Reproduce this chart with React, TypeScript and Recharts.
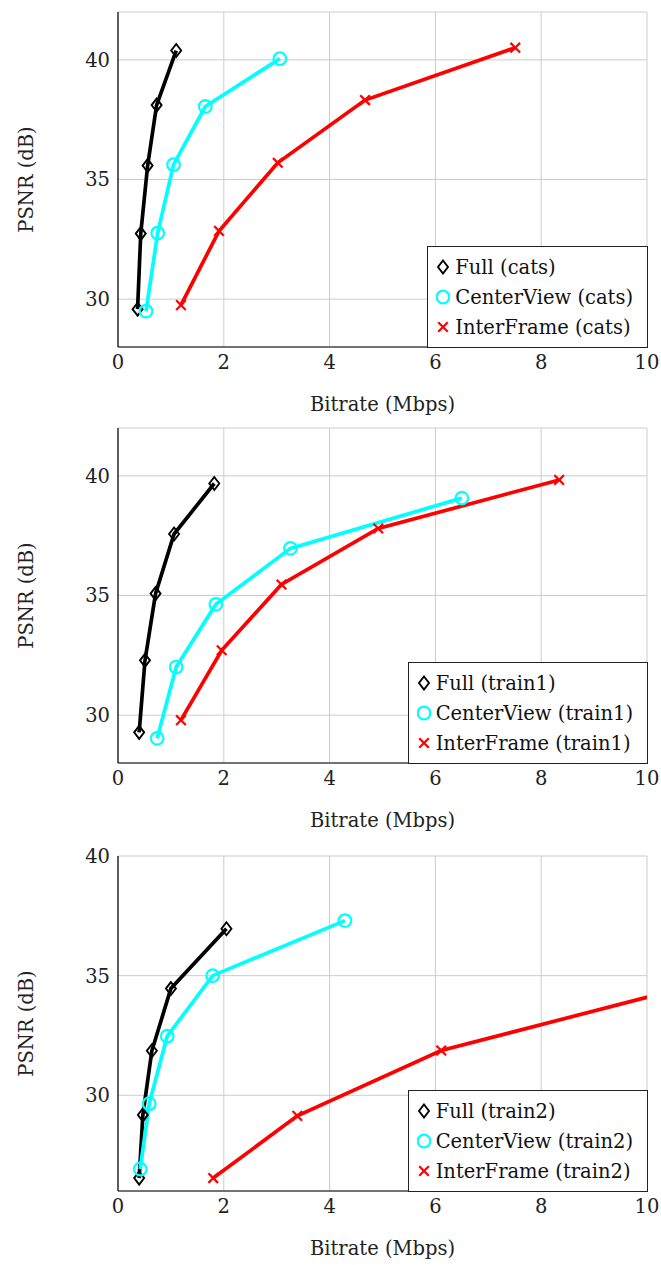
import React from 'react';
import { LineChart, Line, XAxis, YAxis, CartesianGrid, Legend, Label } from 'recharts';

const rateTicks = [0, 2, 4, 6, 8, 10];
const psnrTicks = [30, 35, 40];

// cats
const catsFullRate = [0.37, 0.43, 0.56, 0.73, 1.1];
const catsFullPsnr = [29.58, 32.74, 35.58, 38.11, 40.39];
const catsCenterRate = [0.53, 0.75, 1.05, 1.65, 3.06];
const catsCenterPsnr = [29.5, 32.76, 35.62, 38.05, 40.05];
const catsInterRate = [1.19, 1.91, 3.02, 4.67, 7.51];
const catsInterPsnr = [29.75, 32.85, 35.7, 38.32, 40.51];

// train1
const train1FullRate = [0.4, 0.51, 0.71, 1.06, 1.82];
const train1FullPsnr = [29.28, 32.29, 35.08, 37.57, 39.68];
const train1CenterRate = [0.74, 1.1, 1.85, 3.26, 6.5];
const train1CenterPsnr = [29.03, 32.01, 34.63, 36.97, 39.07];
const train1InterRate = [1.19, 1.96, 3.09, 4.92, 8.34];
const train1InterPsnr = [29.79, 32.71, 35.46, 37.8, 39.83];

// train2
const train2FullRate = [0.4, 0.47, 0.64, 1.0, 2.05];
const train2FullPsnr = [26.54, 29.18, 31.86, 34.46, 36.96];
const train2CenterRate = [0.42, 0.59, 0.93, 1.79, 4.29];
const train2CenterPsnr = [26.92, 29.65, 32.47, 35.0, 37.3];
const train2InterRate = [1.8, 3.39, 6.11, 12.5];
const train2InterPsnr = [26.54, 29.14, 31.87, 35.53];

const FONT = "'DejaVu Serif', 'Liberation Serif', serif";
const FS = 19.5;

type Pt = { rate: number; psnr: number };
const toPoints = (rate: number[], psnr: number[]): Pt[] =>
  rate.map((r, i) => ({ rate: r, psnr: psnr[i] }));

const Diamond = ({ cx, cy }: { cx: number; cy: number }) => (
  <polygon
    points={`${cx},${cy - 6.5} ${cx + 5},${cy} ${cx},${cy + 6.5} ${cx - 5},${cy}`}
    fill="none"
    stroke="#000"
    strokeWidth={1.9}
  />
);

const Ring = ({ cx, cy }: { cx: number; cy: number }) => (
  <circle cx={cx} cy={cy} r={6.3} fill="none" stroke="#00ffff" strokeWidth={2.2} />
);

const Cross = ({ cx, cy }: { cx: number; cy: number }) => (
  <g stroke="#ff0000" strokeWidth={2.2}>
    <line x1={cx - 4.8} y1={cy - 4.8} x2={cx + 4.8} y2={cy + 4.8} />
    <line x1={cx - 4.8} y1={cy + 4.8} x2={cx + 4.8} y2={cy - 4.8} />
  </g>
);

const series = [
  { key: 'full', label: 'Full', color: '#000000', Marker: Diamond },
  { key: 'center', label: 'CenterView', color: '#00ffff', Marker: Ring },
  { key: 'inter', label: 'InterFrame', color: '#ff0000', Marker: Cross },
];

const LegendBox = ({ tag }: { tag: string }) => (
  <div
    style={{
      border: '1px solid #222',
      background: '#fff',
      padding: '5px 14px 5px 8px',
      fontFamily: FONT,
      fontSize: FS,
      color: '#111',
    }}
  >
    {series.map((s) => (
      <div key={s.key} style={{ display: 'flex', alignItems: 'center', height: 30, whiteSpace: 'nowrap' }}>
        <svg width={14} height={16} style={{ marginRight: 5 }}>
          <s.Marker cx={7} cy={8} />
        </svg>
        <span>
          {s.label} ({tag})
        </span>
      </div>
    ))}
  </div>
);

const YTitle = ({ viewBox }: any) => {
  const cx = viewBox.x + 26;
  const cy = viewBox.y + viewBox.height / 2;
  return (
    <text
      x={cx}
      y={cy}
      transform={`rotate(-90 ${cx} ${cy})`}
      textAnchor="middle"
      dominantBaseline="central"
      fontFamily={FONT}
      fontSize={FS}
      fill="#222"
    >
      PSNR (dB)
    </text>
  );
};

const XTitle = ({ viewBox }: any) => (
  <text
    x={viewBox.x + viewBox.width / 2}
    y={viewBox.y + 57}
    textAnchor="middle"
    dominantBaseline="central"
    fontFamily={FONT}
    fontSize={FS}
    fill="#222"
  >
    Bitrate (Mbps)
  </text>
);

interface PanelProps {
  tag: string;
  yDomain: [number, number];
  full: Pt[];
  center: Pt[];
  inter: Pt[];
}

const Panel = ({ tag, yDomain, full, center, inter }: PanelProps) => {
  const data: Record<string, Pt[]> = { full, center, inter };
  const tickStyle = { fontFamily: FONT, fontSize: FS, fill: '#222' };
  return (
    <LineChart width={661} height={420} margin={{ top: 12, right: 14, bottom: 13, left: 0 }}>
      <CartesianGrid stroke="#cccccc" strokeWidth={1} />
      <XAxis
        type="number"
        dataKey="rate"
        domain={[0, 10]}
        ticks={rateTicks}
        allowDataOverflow
        height={60}
        tickLine={false}
        tickMargin={2}
        axisLine={{ stroke: '#000', strokeWidth: 1.2 }}
        tick={tickStyle}
      >
        <Label content={<XTitle />} />
      </XAxis>
      <YAxis
        type="number"
        dataKey="psnr"
        domain={yDomain}
        ticks={psnrTicks}
        allowDataOverflow
        width={118}
        tickLine={false}
        tickMargin={2}
        axisLine={{ stroke: '#000', strokeWidth: 1.2 }}
        tick={tickStyle}
      >
        <Label content={<YTitle />} />
      </YAxis>
      {series.map((s) => (
        <Line
          key={s.key}
          data={data[s.key]}
          dataKey="psnr"
          name={`${s.label} (${tag})`}
          stroke={s.color}
          strokeWidth={3.7}
          isAnimationActive={false}
          activeDot={false}
          dot={(p: any) => (
            <g key={`${s.key}-${p.index}`}>
              <s.Marker cx={p.cx} cy={p.cy} />
            </g>
          )}
        />
      ))}
      <Legend
        layout="vertical"
        align="center"
        verticalAlign="middle"
        wrapperStyle={{ right: 13, bottom: 72, left: 'auto', top: 'auto', width: 'auto' }}
        content={() => <LegendBox tag={tag} />}
      />
    </LineChart>
  );
};

const App = () => (
  <div style={{ position: 'absolute', left: 0, top: 0, width: 661, height: 1265, background: '#fff' }}>
    <div style={{ position: 'absolute', left: 0, top: 0 }}>
      <Panel
        tag="cats"
        yDomain={[28, 42]}
        full={toPoints(catsFullRate, catsFullPsnr)}
        center={toPoints(catsCenterRate, catsCenterPsnr)}
        inter={toPoints(catsInterRate, catsInterPsnr)}
      />
    </div>
    <div style={{ position: 'absolute', left: 0, top: 416 }}>
      <Panel
        tag="train1"
        yDomain={[28, 42]}
        full={toPoints(train1FullRate, train1FullPsnr)}
        center={toPoints(train1CenterRate, train1CenterPsnr)}
        inter={toPoints(train1InterRate, train1InterPsnr)}
      />
    </div>
    <div style={{ position: 'absolute', left: 0, top: 844 }}>
      <Panel
        tag="train2"
        yDomain={[26, 40]}
        full={toPoints(train2FullRate, train2FullPsnr)}
        center={toPoints(train2CenterRate, train2CenterPsnr)}
        inter={toPoints(train2InterRate, train2InterPsnr)}
      />
    </div>
  </div>
);

export default App;
